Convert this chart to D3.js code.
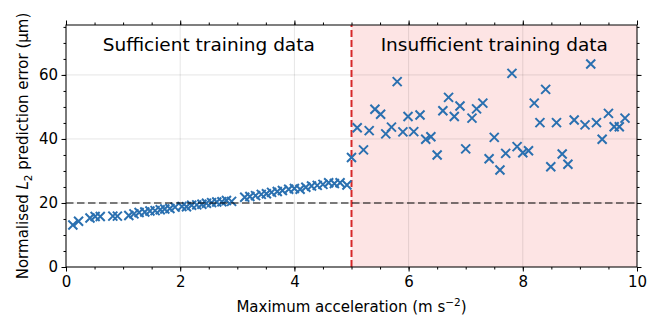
<!DOCTYPE html>
<meta charset="utf-8">
<style>
body { margin: 0; background: #fff; }
text { font-family: "DejaVu Sans", sans-serif; fill: #000; }
</style>
<body>
<script src="https://cdn.jsdelivr.net/npm/d3@7"></script>
<script>
var width = 667,
    height = 318;
var margin = {top: 25, right: 30, bottom: 51, left: 66};

// readings: training-data regime (a < 5)
var accelLow = [0.12, 0.22, 0.42, 0.51, 0.60, 0.82, 0.90, 1.10, 1.19, 1.28, 1.38, 1.47,
  1.56, 1.65, 1.73, 1.82, 1.91, 2.03, 2.11, 2.20, 2.29, 2.38, 2.46, 2.55, 2.64, 2.73,
  2.81, 2.90, 3.13, 3.22, 3.32, 3.42, 3.51, 3.60, 3.70, 3.79, 3.90, 4.00, 4.10, 4.20,
  4.30, 4.40, 4.50, 4.60, 4.70, 4.80, 4.92];
var errorLow = [13.1, 14.3, 15.3, 15.8, 15.8, 15.9, 15.9, 16.1, 16.6, 17.0, 17.2, 17.5,
  17.6, 17.9, 18.1, 18.3, 18.7, 18.9, 18.8, 19.3, 19.4, 19.6, 19.9, 20.1, 20.3, 20.4,
  20.8, 20.5, 21.8, 22.0, 22.3, 22.7, 22.9, 23.3, 23.6, 23.9, 24.3, 24.5, 24.3, 24.9,
  25.3, 25.5, 25.8, 26.3, 26.1, 26.3, 25.6];

// readings: extrapolation regime (a >= 5)
var accelHigh = [5.00, 5.10, 5.21, 5.31, 5.41, 5.51, 5.60, 5.70, 5.80, 5.90, 5.99, 6.09,
  6.20, 6.30, 6.39, 6.50, 6.60, 6.70, 6.80, 6.90, 7.00, 7.11, 7.19, 7.30, 7.41, 7.50,
  7.60, 7.70, 7.81, 7.90, 8.00, 8.10, 8.20, 8.30, 8.40, 8.49, 8.59, 8.69, 8.79, 8.90,
  9.09, 9.19, 9.29, 9.39, 9.50, 9.60, 9.69, 9.79];
var errorHigh = [34.2, 43.5, 36.6, 42.6, 49.3, 47.7, 41.6, 43.7, 57.9, 42.2, 47.0, 42.3,
  47.5, 39.9, 40.7, 35.0, 48.8, 53.0, 47.0, 50.3, 36.9, 46.5, 49.4, 51.2, 33.8, 40.5,
  30.3, 35.5, 60.5, 37.6, 35.7, 36.3, 51.2, 45.1, 55.5, 31.3, 45.1, 35.3, 32.1, 45.9,
  44.4, 63.4, 45.1, 39.9, 48.0, 43.8, 43.8, 46.5];

var xTicks = [0, 2, 4, 6, 8, 10];
var yTicks = [0, 20, 40, 60];
var threshold = 5;
var reference = 20;
var regionLabels = ["Sufficient training data", "Insufficient training data"];

var points = accelLow.map(function(a, i) { return [a, errorLow[i]]; })
  .concat(accelHigh.map(function(a, i) { return [a, errorHigh[i]]; }));

var x = d3.scaleLinear().domain([0, 10]).range([margin.left, width - margin.right]);
var y = d3.scaleLinear().domain([0, 75.6]).range([height - margin.bottom, margin.top]);

var svg = d3.select("body").append("svg")
    .attr("width", width)
    .attr("height", height);

// shaded region
svg.append("rect")
    .attr("x", x(threshold))
    .attr("y", y(75.6))
    .attr("width", x(10) - x(threshold))
    .attr("height", y(0) - y(75.6))
    .attr("fill", "#fde4e4");

// grid
var grid = svg.append("g").attr("stroke", "#000").attr("stroke-opacity", 0.1).attr("stroke-width", 1);
xTicks.forEach(function(t) {
  grid.append("line").attr("x1", x(t)).attr("x2", x(t)).attr("y1", y(0)).attr("y2", y(75.6));
});
yTicks.forEach(function(t) {
  grid.append("line").attr("x1", x(0)).attr("x2", x(10)).attr("y1", y(t)).attr("y2", y(t));
});

// threshold line
svg.append("line")
    .attr("x1", x(threshold)).attr("x2", x(threshold))
    .attr("y1", y(0)).attr("y2", y(75.6))
    .attr("stroke", "#d62728")
    .attr("stroke-width", 2)
    .attr("stroke-dasharray", "7,3");

// markers
var s = 4.5;
svg.append("g")
    .attr("stroke", "#2a70b0")
    .attr("stroke-width", 2)
  .selectAll("path")
  .data(points)
  .enter().append("path")
    .attr("d", function(d) {
      var cx = x(d[0]), cy = y(d[1]);
      return "M" + (cx - s) + "," + (cy - s) + "L" + (cx + s) + "," + (cy + s) +
             "M" + (cx - s) + "," + (cy + s) + "L" + (cx + s) + "," + (cy - s);
    });

// reference line
svg.append("line")
    .attr("x1", x(0)).attr("x2", x(10))
    .attr("y1", y(reference)).attr("y2", y(reference))
    .attr("stroke", "#000")
    .attr("stroke-opacity", 0.5)
    .attr("stroke-width", 2)
    .attr("stroke-dasharray", "7.5,3.5");

// axes, ticks on all four sides
var minorX = d3.range(0, 10.01, 0.5);
var minorY = d3.range(0, 75.6, 5);
function addAxis(axis, transform, labels) {
  var g = svg.append("g").attr("transform", transform).call(axis);
  g.selectAll(".tick text").attr("font-size", 15).attr("font-family", "DejaVu Sans");
  if (!labels) g.selectAll(".tick text").remove();
  g.select(".domain").remove();
  return g;
}
addAxis(d3.axisBottom(x).tickValues(minorX).tickSize(2.5).tickFormat(""), "translate(0," + y(0) + ")", false);
addAxis(d3.axisTop(x).tickValues(minorX).tickSize(2.5).tickFormat(""), "translate(0," + y(75.6) + ")", false);
addAxis(d3.axisLeft(y).tickValues(minorY).tickSize(2.5).tickFormat(""), "translate(" + x(0) + ",0)", false);
addAxis(d3.axisRight(y).tickValues(minorY).tickSize(2.5).tickFormat(""), "translate(" + x(10) + ",0)", false);
addAxis(d3.axisBottom(x).tickValues(xTicks).tickSize(4.5).tickPadding(5).tickFormat(d3.format("d")), "translate(0," + y(0) + ")", true);
addAxis(d3.axisTop(x).tickValues(xTicks).tickSize(4.5), "translate(0," + y(75.6) + ")", false);
addAxis(d3.axisLeft(y).tickValues(yTicks).tickSize(4.5).tickPadding(3.5).tickFormat(d3.format("d")), "translate(" + x(0) + ",0)", true);
addAxis(d3.axisRight(y).tickValues(yTicks).tickSize(4.5), "translate(" + x(10) + ",0)", false);

// frame
svg.append("rect")
    .attr("x", x(0)).attr("y", y(75.6))
    .attr("width", x(10) - x(0)).attr("height", y(0) - y(75.6))
    .attr("fill", "none").attr("stroke", "#000").attr("stroke-width", 1);

// region annotations
svg.append("text")
    .attr("x", (x(0) + x(threshold)) / 2).attr("y", 51)
    .attr("text-anchor", "middle").attr("font-size", 18.5)
    .text(regionLabels[0]);
svg.append("text")
    .attr("x", (x(threshold) + x(10)) / 2).attr("y", 51)
    .attr("text-anchor", "middle").attr("font-size", 18.5)
    .text(regionLabels[1]);

// axis titles
var xl = svg.append("text")
    .attr("x", (x(0) + x(10)) / 2).attr("y", 312)
    .attr("text-anchor", "middle").attr("font-size", 15);
xl.append("tspan").text("Maximum acceleration (m s");
xl.append("tspan").attr("dy", -6).attr("font-size", 10.5).text("\u22122");
xl.append("tspan").attr("dy", 6).text(")");

var yl = svg.append("text")
    .attr("transform", "translate(28," + ((y(0) + y(75.6)) / 2) + ") rotate(-90)")
    .attr("text-anchor", "middle").attr("font-size", 15);
yl.append("tspan").text("Normalised ");
yl.append("tspan").attr("font-style", "italic").text("L");
yl.append("tspan").attr("dy", 3.5).attr("font-size", 10.5).text("2");
yl.append("tspan").attr("dy", -3.5).text(" prediction error (\u00b5m)");
</script>
</body>
